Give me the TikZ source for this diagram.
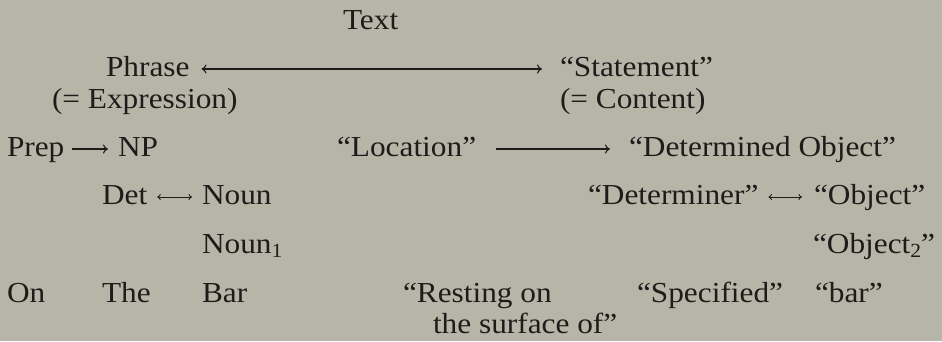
\documentclass[tikz,border=0pt]{standalone}
\usepackage{fontspec}
\setmainfont{Liberation Serif}[FakeStretch=1.08]
\usetikzlibrary{arrows.meta,calc}
\definecolor{paper}{RGB}{183,181,167}
\definecolor{ink}{RGB}{30,28,26}
\newcommand{\sub}[1]{\raisebox{-4pt}{\fontsize{20}{20}\selectfont #1}}
\begin{document}
\begin{tikzpicture}[x=1pt,y=-1pt,
  every node/.style={anchor=base west,inner sep=0pt,outer sep=0pt,text=ink,
    font=\fontsize{29}{33}\selectfont},
  arr/.style={ink,line width=1.1pt,-{Computer Modern Rightarrow[length=5pt,width=9pt]}},
  biarr/.style={ink,line width=1.1pt,{Computer Modern Rightarrow[length=5pt,width=9pt]}-{Computer Modern Rightarrow[length=5pt,width=9pt]}},
  smallbi/.style={ink,line width=0.9pt,{Computer Modern Rightarrow[length=3.5pt,width=6pt]}-{Computer Modern Rightarrow[length=3.5pt,width=6pt]}}]
% page and paper tone
\fill[paper] (0,0) rectangle (942,341);
\useasboundingbox (0,0) rectangle (942,341);

% top level
\node (text) at (343,29) {Text};
\node (phrase) at (106,76) {Phrase};
\node (expr) at (52,108) {(= Expression)};
\node (stmt) at (560,76) {“Statement”};
\node (content) at (560,108) {(= Content)};

% syntactic side
\node (prep) at (7,156) {Prep};
\node (np) at (118,156) {NP};
\node (det) at (102,204) {Det};
\node (noun) at (202,204) {Noun};
\node (noun1) at (202,253) {Noun\sub{1}};
\node (on) at (7,302) {On};
\node (the) at (102,302) {The};
\node (bar) at (202,302) {Bar};

% semantic side
\node (loc) at (337,156) {“Location”};
\node (detobj) at (629,156) {“Determined Object”};
\node (detr) at (588,204) {“Determiner”};
\node (obj) at (814,204) {“Object”};
\node (obj2) at (813,253) {“Object\sub{2}”};
\node (rest) at (403,302) {“Resting on};
\node (surf) at (433,333) {the surface of”};
\node (spec) at (637,302) {“Specified”};
\node (barq) at (815,302) {“bar”};

% connectors, drawn at the math axis of each row
\draw[biarr] ($(phrase.base east)+(12,-7)$) -- ($(stmt.base west)+(-18,-7)$);
\draw[arr] ($(prep.base east)+(8,-7)$) -- ($(np.base west)+(-10,-7)$);
\draw[arr] ($(loc.base east)+(20,-7)$) -- ($(detobj.base west)+(-19,-7)$);
\draw[smallbi] ($(det.base east)+(10,-7)$) -- ($(noun.base west)+(-10,-7)$);
\draw[smallbi] ($(detr.base east)+(10,-7)$) -- ($(obj.base west)+(-12,-7)$);
\end{tikzpicture}
\end{document}
